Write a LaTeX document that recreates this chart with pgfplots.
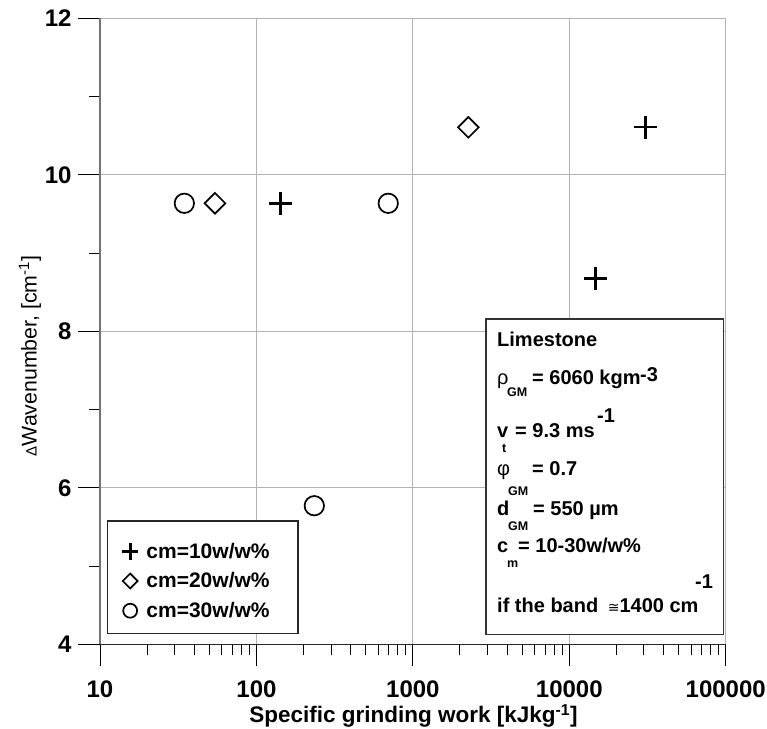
\documentclass[border=0pt]{standalone}
\usepackage{fontspec}
\setmainfont{Liberation Sans}
\newfontfamily\dejavu{DejaVu Sans}
\usepackage{pgfplots}
\pgfplotsset{compat=1.18}
\newcommand\bx{\fontsize{20}{24}\selectfont\bfseries}
\newcommand\sx{\fontsize{12.5}{15}\selectfont\bfseries}
\newcommand\gx{\fontsize{20}{24}\selectfont}
\begin{document}
\begin{tikzpicture}
\useasboundingbox (-100pt,-83.7pt) rectangle (667pt,644.3pt);
\begin{axis}[
  at={(0pt,0pt)}, anchor=south west,
  scale only axis, width=625.7pt, height=626pt,
  xmode=log, xmin=10, xmax=100000, ymin=4, ymax=12,
  xtick={10,100,1000,10000,100000},
  xticklabels={10,100,1000,10000,100000},
  minor xtick={20,30,40,50,60,70,80,90,200,300,400,500,600,700,800,900,2000,3000,4000,5000,6000,7000,8000,9000,20000,30000,40000,50000,60000,70000,80000,90000},
  ytick={4,6,8,10,12}, minor ytick={5,7,9,11},
  grid=major, major grid style={draw=black!30, line width=1pt},
  axis lines*=left,
  x axis line style={black!85, line width=1.2pt},
  y axis line style={black!55, line width=1.5pt},
  tick align=outside, major tick length=22pt, minor tick length=11pt,
  tick style={black, line width=1pt},
  /pgf/number format/assume math mode=true,
  ticklabel style={font=\fontsize{24}{28}\selectfont\bfseries},
  xticklabel style={anchor=center, yshift=-22.7pt},
  yticklabel style={anchor=east, xshift=-3pt},
  xlabel={Specific grinding work [kJkg\textsuperscript{-1}]},
  xlabel style={at={(axis description cs:0.501,-0.1145)}, anchor=center, font=\fontsize{22.5}{26}\selectfont\bfseries},
  ylabel={{\fontsize{15}{18}\selectfont Δ}Wavenumber, [cm\textsuperscript{-1}]},
  ylabel style={at={(axis description cs:-0.1119,0.4605)}, anchor=center, font=\fontsize{21.3}{24}\selectfont},
  legend style={at={(axis description cs:0.0123,0.0176)}, anchor=south west,
    draw=none, fill=none,
    font=\fontsize{21}{24}\selectfont\bfseries,
    row sep=9pt, inner xsep=14pt, inner ysep=12pt},
  legend cell align=left,
  legend image post style={every mark/.append style={scale=0.72}},
]
\draw[black!85, line width=1.2pt, fill=white] (axis description cs:0.0123,0.0176) rectangle (axis description cs:0.3164,0.197);
\addplot[only marks, mark=+, mark size=11.5pt, line width=2.8pt, black]
  coordinates {(142.9,9.636)(14760,8.677)(30830,10.61)};
\addlegendentry{\hspace{6pt}cm=10w/w\%}
\addplot[only marks, mark=square, mark options={rotate=45}, mark size=7.3pt, line width=1.7pt, black]
  coordinates {(54.3,9.636)(2265,10.607)};
\addlegendentry{\hspace{6pt}cm=20w/w\%}
\addplot[only marks, mark=o, mark size=9.7pt, line width=1.7pt, black]
  coordinates {(34.6,9.636)(696,9.636)(234.4,5.771)};
\addlegendentry{\hspace{6pt}cm=30w/w\%}
\end{axis}
\draw[black!80, line width=1.2pt, fill=white] (386pt,10pt) rectangle (623.3pt,325.3pt);
\begin{scope}[every node/.style={anchor=base west, inner sep=0pt}]
\node[font=\bx] at (397pt,297.3pt) {Limestone};
\node[font=\gx] at (397pt,259.3pt) {ρ};
\node[font=\sx] at (407pt,247.3pt) {GM};
\node[font=\bx] at (432pt,259.3pt) {= 6060 kgm};
\node[font=\bx] at (540pt,263pt) {-3};
\node[font=\bx] at (397pt,207.3pt) {v};
\node[font=\sx] at (402pt,192.3pt) {t};
\node[font=\bx] at (415pt,207.3pt) {= 9.3 ms};
\node[font=\bx] at (497pt,221.3pt) {-1};
\node[font=\gx] at (397pt,169.3pt) {φ};
\node[font=\sx] at (408pt,149.3pt) {GM};
\node[font=\bx] at (432pt,169.3pt) {= 0.7};
\node[font=\bx] at (397pt,129.3pt) {d};
\node[font=\sx] at (408pt,114.3pt) {GM};
\node[font=\bx] at (433pt,129.3pt) {= 550 µm};
\node[font=\bx] at (397pt,92.3pt) {c};
\node[font=\sx] at (407pt,77.3pt) {m};
\node[font=\bx] at (418pt,92.3pt) {= 10-30w/w\%};
\node[font=\bx] at (595pt,56.3pt) {-1};
\node[font=\bx] at (397pt,32.3pt) {if the band\hspace{4pt} {\dejavu\mdseries\fontsize{14}{16}\selectfont ≅}1400 cm};
\end{scope}
\end{tikzpicture}
\end{document}
